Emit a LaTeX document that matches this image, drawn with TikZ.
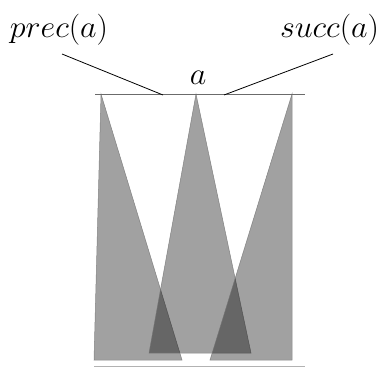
\documentclass[tikz,border=0pt]{standalone}
\begin{document}
\begin{tikzpicture}[x=1pt,y=-1pt,
  tri/.style={fill=black,fill opacity=0.37,draw=black!55,draw opacity=0.8,line width=0.5pt},
  lbl/.style={inner sep=0pt,font=\fontsize{24.88}{30}\selectfont},
  lead/.style={draw=black,line width=0.8pt}]
\useasboundingbox (0,0) rectangle (382,367);
% triangles
\coordinate (t1) at (101,94);
\coordinate (t2) at (196,94);
\coordinate (t3) at (292,94);
\path[tri] (t1) -- (94,360) -- (182,360) -- cycle;
\path[tri] (t2) -- (149,353) -- (251,353) -- cycle;
\path[tri] (t3) -- (210,360) -- (292,360) -- cycle;
% top and bottom lines
\coordinate (l0) at (95,94.5);
\coordinate (l1) at (305,94.5);
\draw[black!58,line width=1.5pt] (l0) -- (l1);
\coordinate (b0) at (94,366);
\coordinate (b1) at (305,366);
\draw[black!30,line width=0.8pt] (b0) -- (b1);
% labels
\node[lbl,anchor=base] (p) at (59,37) {\scalebox{1.29}[1.25]{$prec(a)$}};
\node[lbl,anchor=base] (s) at (329.5,37) {\scalebox{1.29}[1.25]{$succ(a)$}};
\node[lbl,anchor=base] (a) at (198,84) {\scalebox{1.29}[1.25]{$a$}};
\coordinate (pe) at (62,54);
\coordinate (pf) at (163,95);
\coordinate (se) at (333,54);
\coordinate (sf) at (224,95);
\draw[lead] (pe) -- (pf);
\draw[lead] (se) -- (sf);
\end{tikzpicture}
\end{document}
